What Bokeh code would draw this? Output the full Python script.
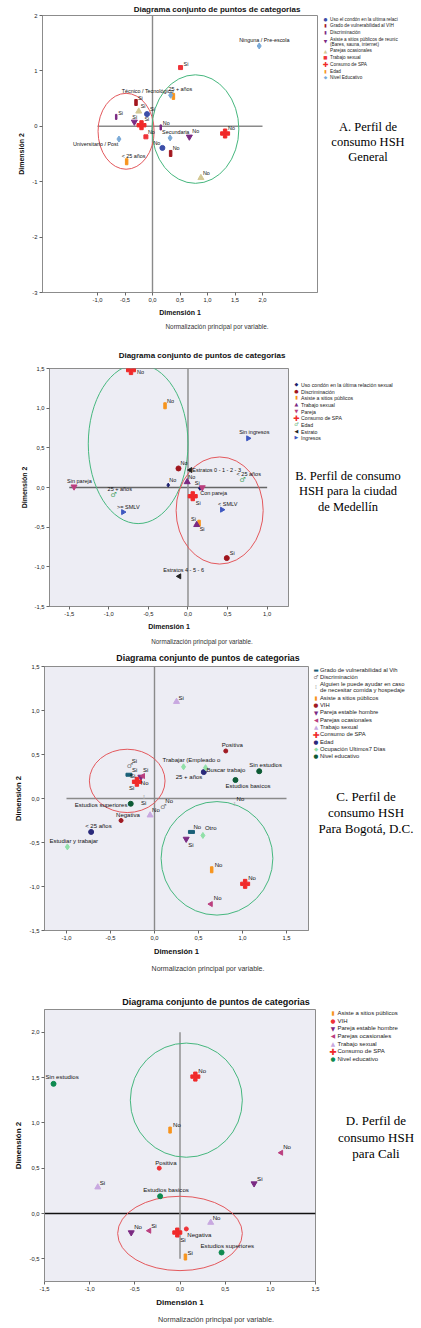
import math
from html import escape
from bokeh.plotting import figure
from bokeh.layouts import column, row
from bokeh.models import ColumnDataSource, Range1d, FixedTicker, CustomJSTickFormatter, Div
from bokeh.core.properties import value
from bokeh.embed import file_html
from bokeh.resources import INLINE

SANS = "Liberation Sans"
SERIF = "Liberation Serif"
SYM = "DejaVu Sans"
PAGE_W = 421
BG = "#EDEDF4"

TITLE = "Diagrama conjunto de puntos de categorias"
NOTE = "Normalización principal por variable."

# ---------------- A. General ----------------
a_names = ["Uso el condón en la ultima relaci", "Grado de vulnerabilidad al VIH", "Discriminación",
           "Asiste a sitios públicos de reunic\n(Bares, sauna, internet)", "Parejas ocasionales",
           "Trabajo sexual", "Consumo de SPA", "Edad", "Nivel Educativo"]
a_var = [8, 5, 8, 7, 1, 4, 0, 2, 3, 6, 2, 5, 8, 8, 3, 6, 0, 1, 7, 4]
a_x = [1.94, 0.51, 0.33, 0.38, -0.30, -0.25, -0.10, -0.66, -0.33, -0.20,
       0.15, -0.12, -0.61, 0.32, 0.67, 1.32, 0.18, 0.33, -0.47, 0.88]
a_y = [1.45, 1.06, 0.56, 0.54, 0.43, 0.27, 0.22, 0.17, 0.08, 0.02,
       -0.02, -0.19, -0.23, -0.21, -0.19, -0.13, -0.39, -0.49, -0.64, -0.93]
a_lab = ["Ninguna / Pre-escola", "Si", "Técnico / Tecnológico", "25 + años", "Si", "Si", "Si", "Si",
         "Si", "Si", "No", "No", "Universitario / Post", "Secundaria", "No", "No", "No", "No",
         "< 25 años", "No"]
a_ell_x = [-0.48, 0.78]
a_ell_y = [-0.09, -0.05]
a_ell_w = [1.02, 1.58]
a_ell_h = [1.37, 1.96]
a_xticks = [-1.0, -0.5, 0.0, 0.5, 1.0, 1.5, 2.0]
a_yticks = [-3, -2, -1, 0, 1, 2]
a_hline = [-1.0, 2.0]
a_vline = [-3.0, 2.0]

# ---------------- B. Medellín ----------------
b_names = ["Uso condón en la última relación sexual", "Discriminación", "Asiste a sitios públicos",
           "Trabajo sexual", "Pareja", "Consumo de SPA", "Edad", "Estrato", "Ingresos"]
b_var = [5, 2, 8, 1, 7, 6, 3, 0, 0, 4, 4, 5, 6, 8, 8, 2, 3, 1, 7]
b_x = [-0.72, -0.29, 0.76, -0.12, 0.03, 0.69, -0.01, -0.25, 0.15, 0.18,
       -1.44, 0.06, -0.94, 0.43, -0.82, 0.14, 0.11, 0.49, -0.11]
b_y = [1.48, 1.03, 0.62, 0.24, 0.22, 0.09, 0.07, 0.03, -0.01, 0.0,
       0.01, -0.11, -0.10, -0.28, -0.31, -0.45, -0.47, -0.89, -1.12]
b_lab = ["No", "No", "Sin ingresos", "No", "Estratos 0 - 1 - 2 - 3", "< 25 años", "No", "No", "Si",
         "Con pareja", "Sin pareja", "Si", "25 + años", "< SMLV", ">= SMLV", "Si", "Si", "Si",
         "Estratos 4 - 5 - 6"]
b_ell_x = [-0.63, 0.40]
b_ell_y = [0.55, -0.29]
b_ell_w = [1.26, 1.10]
b_ell_h = [2.01, 1.35]
b_xticks = [-1.5, -1.0, -0.5, 0.0, 0.5, 1.0]
b_yticks = [-1.5, -1.0, -0.5, 0.0, 0.5, 1.0, 1.5]
b_hline = [-1.5, 1.0]
b_vline = [-1.5, 1.5]

# ---------------- C. Bogotá ----------------
c_names = ["Grado de vulnerabilidad al Vih", "Discriminación",
           "Alguien le puede ayudar en caso\nde necesitar comida y hospedaje",
           "Asiste a sitios públicos", "VIH", "Pareja estable hombre", "Parejas ocasionales",
           "Trabajo sexual", "Consumo de SPA", "Edad", "Ocupación Ultimos7 Días", "Nivel educativo"]
c_var = [7, 4, 10, 10, 9, 11, 11, 1, 3, 0, 5, 6, 8, 2, 11, 1, 7, 4, 9, 10, 2, 0, 10, 5, 3, 8, 6]
c_x = [0.25, 0.81, 0.33, 0.58, 0.56, 1.19, 0.92, -0.28, -0.20, -0.29, -0.155, -0.13, -0.20, -0.12,
       -0.27, 0.10, -0.05, -0.38, -0.72, -0.99, 0.91, 0.42, 0.55, 0.36, 0.65, 1.03, 0.64]
c_y = [1.10, 0.54, 0.36, 0.35, 0.30, 0.31, 0.21, 0.37, 0.19, 0.27, 0.245, 0.255, 0.19, 0.02,
       -0.06, -0.10, -0.19, -0.25, -0.38, -0.55, -0.06, -0.38, -0.42, -0.46, -0.81, -0.97, -1.20]
c_lab = ["Si", "Positiva", "Trabajar (Empleado o", "Buscar trabajo", "25 + años", "Sin estudios",
         "Estudios basicos", "Si", "Si", "Si", "No", "Si", "Si", "Si", "Estudios superiores", "No",
         "No", "Negativa", "< 25 años", "Estudiar y trabajar", "No", "No", "Otro", "Si", "No", "No", "No"]
c_ell_x = [-0.31, 0.71]
c_ell_y = [0.20, -0.68]
c_ell_w = [0.86, 1.27]
c_ell_h = [0.72, 1.29]
c_xticks = [-1.0, -0.5, 0.0, 0.5, 1.0, 1.5]
c_yticks = [-1.5, -1.0, -0.5, 0.0, 0.5, 1.0, 1.5]
c_hline = [-1.0, 1.5]
c_vline = [-1.5, 1.5]

# ---------------- D. Cali ----------------
d_names = ["Asiste a sitios públicos", "VIH", "Pareja estable hombre", "Parejas ocasionales",
           "Trabajo sexual", "Consumo de SPA", "Nivel educativo"]
d_var = [6, 5, 0, 3, 1, 2, 4, 6, 4, 2, 3, 1, 5, 6, 0]
d_x = [-1.40, 0.17, -0.11, 1.12, -0.23, 0.82, -0.91, -0.22, 0.34, -0.54, -0.34, 0.07, -0.03, 0.46, 0.06]
d_y = [1.43, 1.51, 0.92, 0.67, 0.50, 0.33, 0.29, 0.19, -0.10, -0.21, -0.19, -0.17, -0.21, -0.43, -0.48]
d_lab = ["Sin estudios", "No", "No", "No", "Positiva", "Si", "Si", "Estudios basicos", "No", "No",
         "Si", "Negativa", "Si", "Estudios superiores", "Si"]
d_ell_x = [0.07, 0.0]
d_ell_y = [1.25, -0.22]
d_ell_w = [1.24, 1.38]
d_ell_h = [1.26, 0.82]
d_xticks = [-1.5, -1.0, -0.5, 0.0, 0.5, 1.0, 1.5]
d_yticks = [-0.5, 0.0, 0.5, 1.0, 1.5, 2.0]
d_hline = [-1.5, 1.5]
d_vline = [-0.5, 2.0]

# ---------------- styles / placement ----------------
RED = "#F02A2A"
ORANGE = "#F7941D"
PURPLE = "#7B2A82"
PINK = "#BB3F7F"
LAV = "#C8A8E0"
ELL = ["#E3585C", "#46B77E"]

a_marks = [("circle", "#3C4EA8"), ("vbar", "#A3171F"), ("thin", PURPLE), ("itri", PURPLE),
           ("tri", "#D4C995"), ("sq", "#EF3338"), ("plus", RED), ("vbar", ORANGE), ("dia", "#7AAAD8")]
b_marks = [("dia_s", "#1C1F6E"), ("circle", "#A0151D"), ("vbar", ORANGE), ("tri", PURPLE),
           ("itri", PINK), ("plus", RED), ("ring", "#3A9E5A"), ("ltri", "#222222"), ("rtri", "#3E58C0")]
c_marks = [("hbar", "#1A6078"), ("ring", "#707070"), ("ibeam", "#B0B0B0"), ("vbar", ORANGE),
           ("oval", "#A01A22"), ("itri", PURPLE), ("ltri", PINK), ("tri", LAV), ("plus", RED),
           ("circle", "#2A2A7A"), ("dia", "#90E0A8"), ("circle", "#0D5A34")]
d_marks = [("vbar", ORANGE), ("oval", "#EF3338"), ("itri", PURPLE), ("ltri", PINK), ("tri", LAV),
           ("plus", RED), ("circle", "#0E8A50")]
a_ellc = [ELL[0], ELL[1]]
b_ellc = [ELL[1], ELL[0]]
c_ellc = [ELL[0], ELL[1]]
d_ellc = [ELL[1], ELL[0]]

# label offsets in pixels (right, down)
a_dx = [-20, 3, -49, -5, 2, 2, 3, 2, -2, 3, 2, 2, -46, -8, 3, 3, -9, 2, -5, 2]
a_dy = [-6, -4, -4, -7, -4, -5, -5, -4, -5, -6, -4, -5, 5, -6, -6, -6, -5, -5, -6, -5]
b_dx = [6, 2, -9, 2, 2, -6, 1, 1, -5, -2, -7, 3, -6, -4, -6, -8, 3, 3, -16]
b_dy = [2, -5, -6, -5, 0, -6, -5, -5, -5, 5, -6, 7, -6, -6, -5, -4, 4, -5, -6]
c_dx = [2, -4, -21, 1, -28, -10, -10, 2, -5, 1, 0, 0, -8, -3, -56, 2, 2, -5, -6, -18, 2, 2, 2, 2, 3, 3, 3]
c_dy = [-4, -6, -7, 2, 5, -6, 6, -5, -12, 1, 6, -6, 6, 6, 1, -6, -5, -6, -6, -6, -5, -5, -7, 6, -5, -6, -6]
d_dx = [-8, 3, 3, 2, -4, 3, 2, -17, 2, 3, 2, 1, 3, -21, 2]
d_dy = [-7, -6, -6, -6, -6, -5, -5, -7, -5, -6, -5, 6, 7, -7, -5]

BOXES = {"vbar": (2.5, 6), "hbar": (6, 3), "thin": (1.5, 5), "sq": (4, 4)}
SCAT = {"circle": ("circle", 5, 0), "oval": ("circle", 4, 0), "tri": ("triangle", 6, 0),
        "itri": ("inverted_triangle", 6, 0), "ltri": ("triangle", 5, math.pi / 2),
        "rtri": ("triangle", 5, -math.pi / 2), "plus": ("plus", 9, 0), "dia": ("diamond", 6, 0),
        "dia_s": ("diamond", 4, 0)}
TXT = {"ring": ("♂", SYM, "7px"), "ibeam": ("I", SERIF, "6px")}
LEG = {"circle": "●", "oval": "●", "tri": "▲", "itri": "▼", "ltri": "◀", "rtri": "▶", "plus": "✚",
       "dia": "◆", "dia_s": "◆", "vbar": "▮", "hbar": "▬", "thin": "▮", "sq": "■", "ring": "♂",
       "ibeam": "I"}

# panel geometry in page pixels: frame = (left, right, top, bottom)
GA = dict(top=0, h=340, frame=(42, 317, 15, 292), lw=320, th=13, nh=22,
          xr=(-2.0, 3.0), yr=(-3.0, 2.0), bg="#FFFFFF",
          title=(217, 9.5, 8), note=(217, 327, 6.4), axis=7, dig=(1, 0), lab=5.4,
          leg=(325.5, 330, 19.3, 6.7, 4.7), cap=(368, [127, 142, 157], 12.5),
          captxt=["A. Perfil de", "consumo HSH", "General"])
GB = dict(top=340, h=312, frame=(49, 288, 368, 606), lw=292, th=22, nh=20,
          xr=(-1.75, 1.27), yr=(-1.5, 1.5), bg=BG,
          title=(202, 355.7, 8), note=(202, 642, 6.3), axis=7, dig=(1, 1), lab=5.5,
          leg=(296.5, 301, 385, 6.67, 5.2), cap=(348, [476, 491, 507], 12.5),
          captxt=["B. Perfil de consumo", "HSH para la ciudad", "de Medellín"])
GC = dict(top=652, h=326, frame=(44, 308, 666, 932), lw=312, th=12, nh=20,
          xr=(-1.25, 1.75), yr=(-1.5, 1.5), bg=BG,
          title=(208, 658.3, 8.8), note=(208, 969, 7), axis=7.6, dig=(1, 1), lab=6,
          leg=(316, 320, 670, 7.3, 5.8), cap=(366, [797, 813, 829], 13),
          captxt=["C. Perfil de", "consumo HSH", "Para Bogotá, D.C."])
GD = dict(top=978, h=350, frame=(44, 315, 1009, 1281), lw=320, th=29, nh=19,
          xr=(-1.5, 1.5), yr=(-0.75, 2.25), bg=BG,
          title=(216, 1002, 9), note=(216, 1320, 7.2), axis=8, dig=(1, 1), lab=6.1,
          leg=(333, 337.5, 1013.7, 7.6, 6), cap=(376, [1121, 1138, 1154], 13),
          captxt=["D. Perfil de", "consumo HSH", "para Cali"])


def txt(x, y, s, fs, font=SANS, color="#111111", align="left", weight="normal"):
    lh = fs * 1.2
    shift = "transform:translateX(-50%);" if align == "center" else ""
    return (f'<div style="position:absolute;left:{x:.1f}px;top:{y - lh / 2:.1f}px;{shift}'
            f"font-family:'{font}';font-size:{fs}px;line-height:{lh:.1f}px;font-weight:{weight};"
            f'color:{color};white-space:nowrap;">{escape(s)}</div>')


def box(parts, w, h):
    html = f'<div style="position:relative;width:{w}px;height:{h}px;">{"".join(parts)}</div>'
    return Div(text=html, width=w, height=h, margin=0, styles={"overflow": "visible"})


def draw_marks(p, kind, color, xs, ys):
    src = ColumnDataSource(dict(x=xs, y=ys))
    if kind in BOXES:
        w, h = BOXES[kind]
        p.rect("x", "y", width=w, height=h, width_units="screen", height_units="screen",
               color=color, source=src)
    elif kind in TXT:
        ch, font, size = TXT[kind]
        p.text("x", "y", text=value(ch), text_font=value(font), text_font_size=size,
               text_align="center", text_baseline="middle", text_color=color, source=src)
    else:
        m, s, a = SCAT[kind]
        p.scatter("x", "y", marker=m, size=s, angle=a, color=color, source=src)


def panel(g, names, marks, var, xs, ys, labs, dx, dy, ex, ey, ew, eh, ec, hline, vline,
          xticks, yticks, hcolor="#8A8A8A"):
    fl, fr, ft, fb = g["frame"]
    top, h, lw, th, nh = g["top"], g["h"], g["lw"], g["th"], g["nh"]
    fig_h = h - th - nh
    p = figure(width=lw, height=fig_h, x_range=Range1d(*g["xr"]), y_range=Range1d(*g["yr"]),
               output_backend="svg", toolbar_location=None, tools="",
               min_border_left=fl, min_border_right=lw - fr,
               min_border_top=ft - (top + th), min_border_bottom=(top + h - nh) - fb)
    p.background_fill_color = g["bg"]
    p.border_fill_color = "white"
    p.outline_line_color = "#8C8C8C"
    p.grid.visible = False

    p.xaxis.ticker = FixedTicker(ticks=xticks)
    p.yaxis.ticker = FixedTicker(ticks=yticks)
    p.xaxis.formatter = CustomJSTickFormatter(code="return tick.toFixed(%d).replace('.', ',')" % g["dig"][0])
    p.yaxis.formatter = CustomJSTickFormatter(code="return tick.toFixed(%d).replace('.', ',')" % g["dig"][1])
    p.xaxis.axis_label = "Dimensión 1"
    p.yaxis.axis_label = "Dimensión 2"
    for ax in (p.xaxis[0], p.yaxis[0]):
        ax.axis_line_color = "#8C8C8C"
        ax.major_tick_line_color = "#666666"
        ax.major_tick_out = 3
        ax.major_tick_in = 0
        ax.minor_tick_line_color = None
        ax.major_label_text_font = SANS
        ax.major_label_text_font_size = "5.8px"
        ax.major_label_text_color = "#222222"
        ax.major_label_standoff = 2
        ax.axis_label_text_font = SANS
        ax.axis_label_text_font_style = "bold"
        ax.axis_label_text_font_size = "%spx" % g["axis"]
        ax.axis_label_text_color = "#111111"
        ax.axis_label_standoff = 4

    # reference lines through the origin
    p.segment(x0=[hline[0]], y0=[0], x1=[hline[1]], y1=[0], line_color=hcolor, line_width=1.4)
    p.segment(x0=[0], y0=[vline[0]], x1=[0], y1=[vline[1]], line_color="#8A8A8A", line_width=1.4)

    p.ellipse(x="x", y="y", width="w", height="h", line_color="c", fill_color=None, line_width=1,
              source=ColumnDataSource(dict(x=ex, y=ey, w=ew, h=eh, c=ec)))

    for i, (kind, color) in enumerate(marks):
        idx = [k for k, v in enumerate(var) if v == i]
        draw_marks(p, kind, color, [xs[k] for k in idx], [ys[k] for k in idx])

    p.text(x="x", y="y", text="t", x_offset="dx", y_offset="dy", text_font=value(SANS),
           text_font_size="%spx" % g["lab"], text_baseline="middle", text_align="left",
           text_color="#111111",
           source=ColumnDataSource(dict(x=xs, y=ys, t=labs, dx=dx, dy=dy)))

    # title above, note below
    tx, ty, ts = g["title"]
    title_div = box([txt(tx, ty - top, TITLE, ts, align="center", weight="bold")], lw, th)
    nx, ny, ns = g["note"]
    note_div = box([txt(nx, ny - (top + h - nh), NOTE, ns, align="center", color="#333333")], lw, nh)

    # legend and caption on the right
    parts = []
    gx, lx, y, step, fs = g["leg"]
    for name, (kind, color) in zip(names, marks):
        lines = name.split("\n")
        lh = fs * 1.08
        mid = y + lh * (len(lines) - 1) / 2
        ssize = fs * (1.45 if kind == "plus" else 0.95)
        font = SERIF if kind == "ibeam" else SYM
        parts.append(txt(gx - lw, mid - top, LEG[kind], round(ssize, 1), font=font, color=color,
                         align="center"))
        for j, line in enumerate(lines):
            parts.append(txt(lx - lw, y + j * lh - top, line, fs, color="#222222"))
        y += step + lh * (len(lines) - 1)
    cx, cys, cs = g["cap"]
    for line, cy in zip(g["captxt"], cys):
        parts.append(txt(cx - lw, cy - top, line, cs, font=SERIF, color="#000000", align="center"))
    right_div = box(parts, PAGE_W - lw, h)

    return row(column(title_div, p, note_div), right_div)


pa = panel(GA, a_names, a_marks, a_var, a_x, a_y, a_lab, a_dx, a_dy,
           a_ell_x, a_ell_y, a_ell_w, a_ell_h, a_ellc, a_hline, a_vline, a_xticks, a_yticks)
pb = panel(GB, b_names, b_marks, b_var, b_x, b_y, b_lab, b_dx, b_dy,
           b_ell_x, b_ell_y, b_ell_w, b_ell_h, b_ellc, b_hline, b_vline, b_xticks, b_yticks,
           hcolor="#666666")
pc = panel(GC, c_names, c_marks, c_var, c_x, c_y, c_lab, c_dx, c_dy,
           c_ell_x, c_ell_y, c_ell_w, c_ell_h, c_ellc, c_hline, c_vline, c_xticks, c_yticks)
pd = panel(GD, d_names, d_marks, d_var, d_x, d_y, d_lab, d_dx, d_dy,
           d_ell_x, d_ell_y, d_ell_w, d_ell_h, d_ellc, d_hline, d_vline, d_xticks, d_yticks,
           hcolor="#111111")

page = column(pa, pb, pc, pd)
open("out.html", "w").write(file_html(page, INLINE))
